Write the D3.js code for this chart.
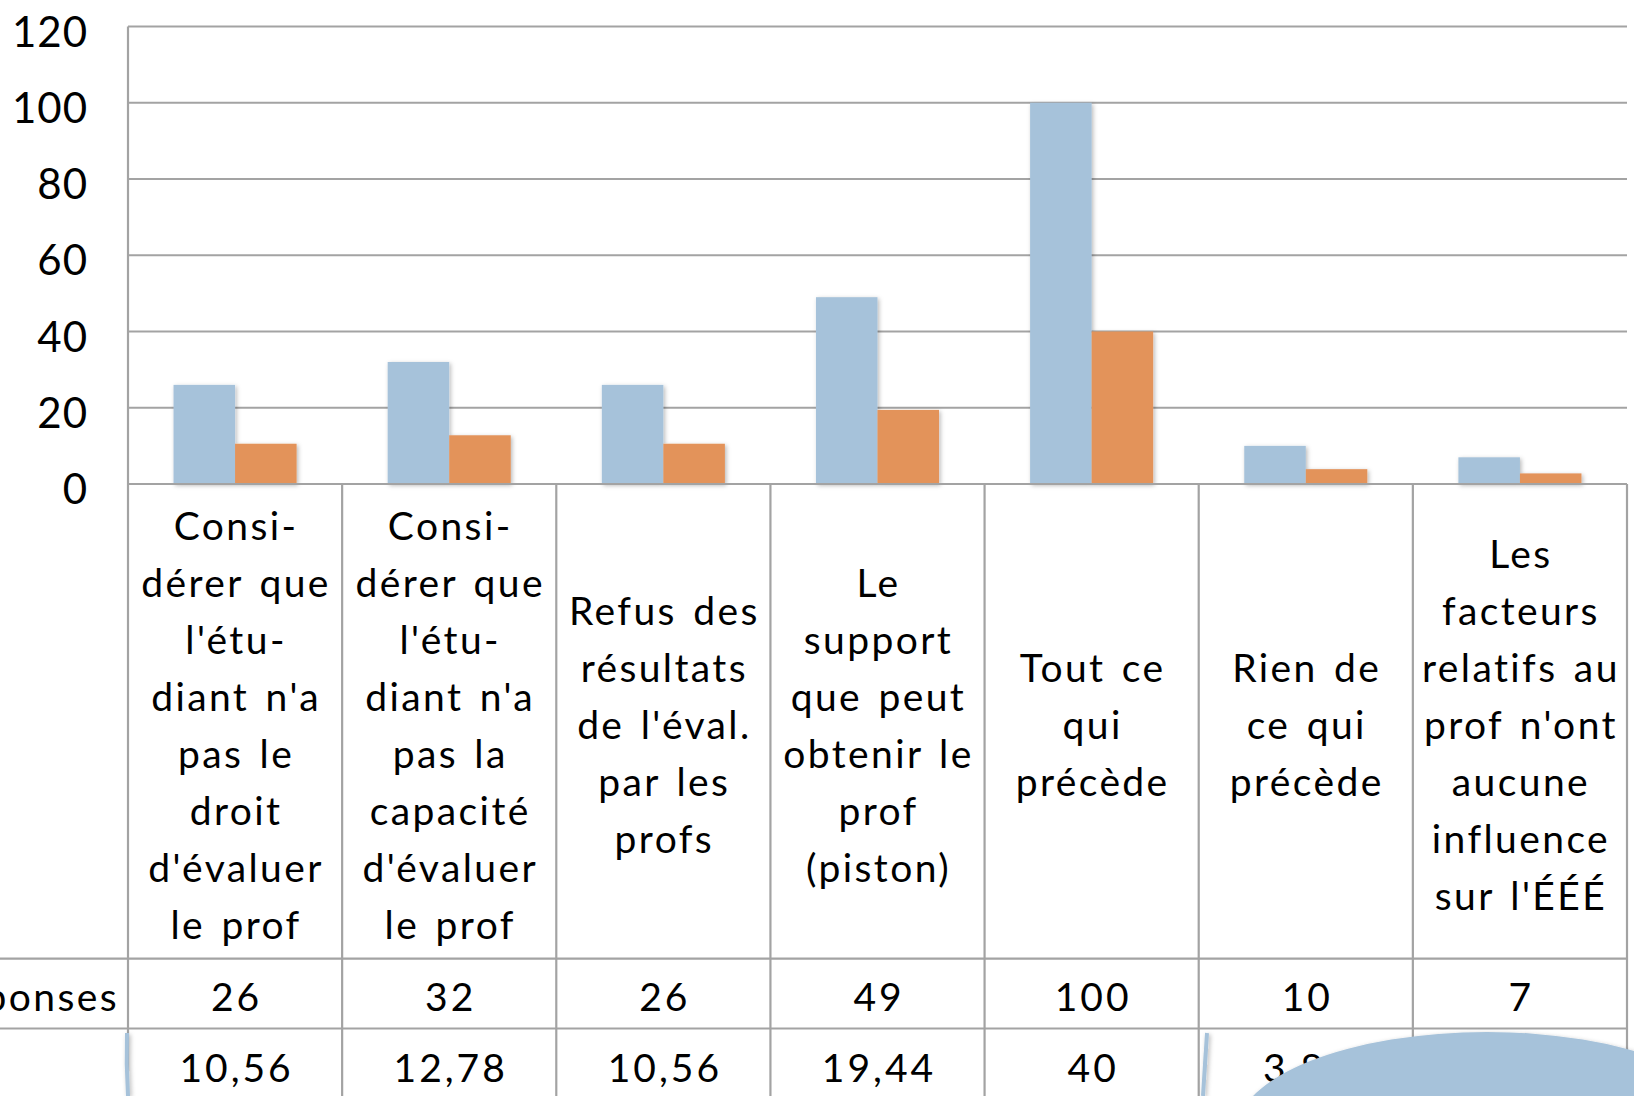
<!DOCTYPE html>
<html lang="fr">
<head>
<meta charset="utf-8">
<script src="https://cdn.jsdelivr.net/npm/d3@7"></script>
<style>
  html, body { margin: 0; padding: 0; background: #fff; overflow: hidden; }
  svg { display: block; font-family: Lato, "Noto Sans", sans-serif; }
  .grid line { stroke: #a3a3a3; stroke-width: 2; }
  .tbl line { stroke: #a3a3a3; stroke-width: 2.2; }
  .tick-label { font-size: 42px; fill: #000; text-anchor: end; letter-spacing: 1px; }
  .cat-label { font-size: 39px; fill: #000; text-anchor: middle; letter-spacing: 2.4px; word-spacing: 4px; }
  .cell { font-size: 39px; fill: #000; text-anchor: middle; letter-spacing: 3px; }
  .row-label { font-size: 39px; fill: #000; text-anchor: end; letter-spacing: 2.4px; }
</style>
</head>
<body>
<svg id="chart" width="1634" height="1096"></svg>
<script>
// categories as they are wrapped in the table header
const categories = [
  ["Consi-", "dérer que", "l'étu-", "diant n'a", "pas le", "droit", "d'évaluer", "le prof"],
  ["Consi-", "dérer que", "l'étu-", "diant n'a", "pas la", "capacité", "d'évaluer", "le prof"],
  ["Refus des", "résultats", "de l'éval.", "par les", "profs"],
  ["Le", "support", "que peut", "obtenir le", "prof", "(piston)"],
  ["Tout ce", "qui", "précède"],
  ["Rien de", "ce qui", "précède"],
  ["Les", "facteurs", "relatifs au", "prof n'ont", "aucune", "influence", "sur l'ÉÉÉ"],
];
const responses = [26, 32, 26, 49, 100, 10, 7];
const percents = [10.56, 12.78, 10.56, 19.44, 40, 3.89, 2.78];
const seriesNames = ["Nombre de réponses", ""];
const yTicks = [0, 20, 40, 60, 80, 100, 120];
const colors = ["#a6c2da", "#e3935a"];

const svg = d3.select("#chart");
const W = 1634, H = 1096;
const plotL = 128, plotR = 1627;
const plotT = 26.5, axisY = 484;
const rowLines = [958.7, 1028.5];
const lineH = 57;

const keys = categories.map((_, i) => i);
const x0 = d3.scaleBand().domain(keys).range([plotL, plotR]).padding(0);
const x1 = d3.scaleBand().domain([0, 1]).range([0, x0.bandwidth()]).paddingInner(0).paddingOuter(0.74);
const y = d3.scaleLinear().domain([0, 120]).range([axisY, plotT]);

const defs = svg.append("defs");
const f = defs.append("filter").attr("id", "shadow").attr("x", "-20%").attr("y", "-20%").attr("width", "140%").attr("height", "140%");
f.append("feDropShadow").attr("dx", 1.5).attr("dy", 1.5).attr("stdDeviation", 2).attr("flood-color", "#000").attr("flood-opacity", 0.28);

// gridlines
svg.append("g").attr("class", "grid")
  .selectAll("line").data(yTicks.filter(d => d > 0)).join("line")
  .attr("x1", plotL).attr("x2", plotR)
  .attr("y1", d => y(d)).attr("y2", d => y(d));

// tick labels
svg.append("g").selectAll("text").data(yTicks).join("text")
  .attr("class", "tick-label")
  .attr("x", 88).attr("y", d => y(d) + 20)
  .text(d => d);

// bars
const seriesData = [responses, percents];
const gBars = svg.append("g").attr("filter", "url(#shadow)");
seriesData.forEach((vals, s) => {
  gBars.selectAll(null).data(vals).join("rect")
    .attr("x", (d, i) => x0(i) + x1(s))
    .attr("width", x1.bandwidth())
    .attr("y", d => y(d))
    .attr("height", d => y(0) - y(d))
    .attr("fill", colors[s]);
});

// data table
const tbl = svg.append("g").attr("class", "tbl");
tbl.append("line").attr("x1", plotL).attr("x2", plotL).attr("y1", plotT).attr("y2", H);
tbl.append("line").attr("x1", plotL).attr("x2", plotR).attr("y1", axisY).attr("y2", axisY);
tbl.selectAll(".vl").data(keys).join("line").attr("class", "vl")
  .attr("x1", d => x0(d) + x0.bandwidth()).attr("x2", d => x0(d) + x0.bandwidth())
  .attr("y1", axisY).attr("y2", H);
tbl.selectAll(".hl").data(rowLines).join("line").attr("class", "hl")
  .attr("x1", 0).attr("x2", plotR).attr("y1", d => d).attr("y2", d => d);

// category header labels
const headMid = (axisY + rowLines[0]) / 2;
const gCat = svg.append("g");
categories.forEach((lines, i) => {
  const t = gCat.append("text").attr("class", "cat-label");
  lines.forEach((ln, j) => {
    t.append("tspan")
      .attr("x", x0(i) + x0.bandwidth() / 2 + 1)
      .attr("y", headMid + 18 + (j - (lines.length - 1) / 2) * lineH)
      .text(ln);
  });
});

// table rows
const rowBase = [rowLines[0] + 52, rowLines[1] + 53];
svg.append("g").selectAll("text").data(responses).join("text")
  .attr("class", "cell")
  .attr("x", (d, i) => x0(i) + x0.bandwidth() / 2 + 1.5)
  .attr("y", rowBase[0]).text(d => d);
svg.append("g").selectAll("text").data(percents).join("text")
  .attr("class", "cell")
  .attr("x", (d, i) => x0(i) + x0.bandwidth() / 2 + 1.5)
  .attr("y", rowBase[1]).text(d => String(d).replace(".", ","));
svg.append("text").attr("class", "row-label").attr("x", 119).attr("y", rowBase[0]).text(seriesNames[0]);
svg.append("text").attr("class", "row-label").attr("x", 119).attr("y", rowBase[1]).text(seriesNames[1]);

// slide decoration in the lower part
const deco = svg.append("g").attr("filter", "url(#shadow)");
deco.append("path").attr("d", "M127,1033 Q126,1064 128,1096")
  .attr("fill", "none").attr("stroke", "#a6c2da").attr("stroke-width", 4);
deco.append("path").attr("d", "M1207,1033 Q1205,1064 1203,1096")
  .attr("fill", "none").attr("stroke", "#a6c2da").attr("stroke-width", 4);
deco.append("ellipse").attr("cx", 1487).attr("cy", 1131).attr("rx", 250).attr("ry", 99)
  .attr("fill", "#a6c2da");
</script>
</body>
</html>
